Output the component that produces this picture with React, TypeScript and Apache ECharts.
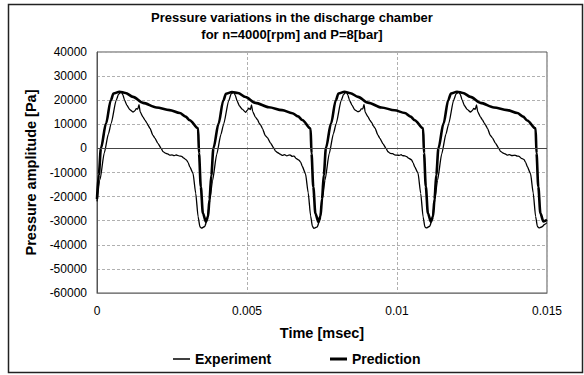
import React, { useEffect, useRef } from "react";
import * as echarts from "echarts";

const titleLines = ["Pressure variations in the discharge chamber", "for n=4000[rpm] and P=8[bar]"];
const xAxisName = "Time [msec]";
const yAxisName = "Pressure amplitude [Pa]";
const seriesNames = ["Experiment", "Prediction"];
const xTicks = [0, 0.005, 0.01, 0.015];
const yTicks = [-60000, -50000, -40000, -30000, -20000, -10000, 0, 10000, 20000, 30000, 40000];

// Experiment (thin line)
const expTime = [
  0, 0.0001, 0.00024, 0.00038, 0.00047, 0.00064, 0.00072, 0.00081, 0.00086, 0.00092, 0.001, 0.00109, 0.0012, 0.00126, 0.00131, 0.00136, 0.0014, 0.00144, 0.00153, 0.0016, 0.00166, 0.0017, 0.00177, 0.00186, 0.00193, 0.00203, 0.00214, 0.0022, 0.00228, 0.00236, 0.00242, 0.0025, 0.00258, 0.00264, 0.00268, 0.00276, 0.00282, 0.00288, 0.00298, 0.00304, 0.00309, 0.0032, 0.00329, 0.00337, 0.00343, 0.00348, 0.00359, 0.00367,
  0.00375, 0.00385, 0.00399, 0.00413, 0.00422, 0.00439, 0.00447, 0.00456, 0.00461, 0.00467, 0.00475, 0.00484, 0.00495, 0.00501, 0.00506, 0.00511, 0.00515, 0.00519, 0.00528, 0.00535, 0.00541, 0.00545, 0.00552, 0.00561, 0.00568, 0.00578, 0.00589, 0.00595, 0.00603, 0.00611, 0.00617, 0.00625, 0.00633, 0.00639, 0.00643, 0.00651, 0.00657, 0.00663, 0.00673, 0.00679, 0.00684, 0.00695, 0.00704, 0.00712, 0.00718, 0.00723, 0.00734, 0.00742,
  0.0075, 0.0076, 0.00774, 0.00788, 0.00797, 0.00814, 0.00822, 0.00831, 0.00836, 0.00842, 0.0085, 0.00859, 0.0087, 0.00876, 0.00881, 0.00886, 0.0089, 0.00894, 0.00903, 0.0091, 0.00916, 0.0092, 0.00927, 0.00936, 0.00943, 0.00953, 0.00964, 0.0097, 0.00978, 0.00986, 0.00992, 0.01, 0.01008, 0.01014, 0.01018, 0.01026, 0.01032, 0.01038, 0.01048, 0.01054, 0.01059, 0.0107, 0.01079, 0.01087, 0.01093, 0.01098, 0.01109, 0.01117,
  0.01125, 0.01135, 0.01149, 0.01163, 0.01172, 0.01189, 0.01197, 0.01206, 0.01211, 0.01217, 0.01225, 0.01234, 0.01245, 0.01251, 0.01256, 0.01261, 0.01265, 0.01269, 0.01278, 0.01285, 0.01291, 0.01295, 0.01302, 0.01311, 0.01318, 0.01328, 0.01339, 0.01345, 0.01353, 0.01361, 0.01367, 0.01375, 0.01383, 0.01389, 0.01393, 0.01401, 0.01407, 0.01413, 0.01423, 0.01429, 0.01434, 0.01445, 0.01454, 0.01462, 0.01468, 0.01473, 0.01484, 0.01492, 0.015,
];
const expValue = [
  -22000, -13000, -2000, 6000, 10300, 20000, 22500, 23500, 22300, 20000, 17800, 16100, 15100, 15600, 16500, 16300, 18200, 15100, 13100, 11700, 10600, 9600, 8300, 5500, 4300, 2100, 0, -1300, -2000, -2300, -2800, -2700, -3000, -2700, -2900, -3200, -3300, -3900, -4800, -5900, -7600, -10300, -18600, -28300, -32500, -33100, -32400, -29700,
  -22500, -13500, -2500, 5800, 10000, 19800, 22600, 23400, 22000, 19700, 17600, 16300, 15000, 15800, 16700, 16100, 18000, 15300, 13000, 11900, 10400, 9800, 8100, 5300, 4500, 2300, 200, -1100, -1800, -2400, -2900, -2600, -3100, -2800, -2700, -3300, -3200, -4100, -4900, -5700, -7400, -10500, -18400, -28000, -32300, -33200, -32600, -29900,
  -22300, -13200, -2200, 6100, 10200, 19900, 22400, 23500, 22200, 19900, 17900, 16000, 15200, 15500, 16400, 16400, 18300, 15000, 13200, 11600, 10700, 9500, 8400, 5600, 4200, 2000, -100, -1400, -2100, -2200, -2700, -2800, -2900, -2600, -3000, -3100, -3400, -4000, -4700, -6000, -7700, -10200, -18700, -28400, -32600, -33000, -32300, -29600,
  -22400, -13300, -2300, 5900, 10100, 20100, 22600, 23400, 22400, 20100, 17700, 16200, 15100, 15700, 16600, 16200, 18100, 15200, 13100, 11800, 10500, 9700, 8200, 5400, 4400, 2200, 100, -1200, -1900, -2300, -2800, -2600, -3000, -2900, -2800, -3200, -3300, -4000, -4600, -5800, -7500, -10400, -18500, -28200, -32400, -33000, -32500, -31500, -30800,
];

// Prediction (thick line)
const predTime = [
  0, 0.00006, 0.00013, 0.0003, 0.00046, 0.00055, 0.00075, 0.00095, 0.0012, 0.00153, 0.00198, 0.00242, 0.00276, 0.00295, 0.00309, 0.00337, 0.0034, 0.00346, 0.00353, 0.00363, 0.0037,
  0.00375, 0.00381, 0.00388, 0.00405, 0.00421, 0.0043, 0.0045, 0.0047, 0.00495, 0.00528, 0.00573, 0.00617, 0.00651, 0.0067, 0.00684, 0.00712, 0.00715, 0.00721, 0.00728, 0.00738, 0.00745,
  0.0075, 0.00756, 0.00763, 0.0078, 0.00796, 0.00805, 0.00825, 0.00845, 0.0087, 0.00903, 0.00948, 0.00992, 0.01026, 0.01045, 0.01059, 0.01087, 0.0109, 0.01096, 0.01103, 0.01113, 0.0112,
  0.01125, 0.01131, 0.01138, 0.01155, 0.01171, 0.0118, 0.012, 0.0122, 0.01245, 0.01278, 0.01323, 0.01367, 0.01401, 0.0142, 0.01434, 0.01462, 0.01465, 0.01471, 0.01478, 0.01488, 0.015,
];
const predValue = [
  -21000, -11000, 0, 10300, 20000, 22800, 23500, 23000, 21400, 18900, 17000, 15900, 14700, 13200, 11700, 8300, -2000, -15900, -26900, -30400, -28300,
  -21200, -11200, 0, 10200, 19900, 22700, 23400, 23000, 21300, 18900, 17100, 15900, 14600, 13300, 11800, 8200, -2100, -16000, -27000, -30500, -28200,
  -21000, -11100, 100, 10300, 20000, 22800, 23500, 22900, 21400, 19000, 17000, 15800, 14700, 13200, 11700, 8300, -1900, -15800, -26900, -30400, -28300,
  -21100, -11000, 0, 10300, 20100, 22800, 23500, 23000, 21400, 18900, 17000, 15900, 14700, 13200, 11600, 8300, -2000, -15900, -26900, -30300, -29700,
];

const FONT = "'Liberation Sans', Arial, Helvetica, sans-serif";

export default function App() {
  const ref = useRef<HTMLDivElement>(null);
  useEffect(() => {
    if (!ref.current) return;
    const chart = echarts.init(ref.current, undefined, { renderer: "svg" });
    const expData = expTime.map((t, i) => [t, expValue[i]]);
    const predData = predTime.map((t, i) => [t, predValue[i]]);
    const legendText = { fontFamily: FONT, fontSize: 14, fontWeight: "bold", color: "#000" };
    chart.setOption({
      animation: false,
      backgroundColor: "#ffffff",
      textStyle: { fontFamily: FONT },
      title: {
        text: titleLines.join("\n"),
        left: "center",
        top: 9,
        padding: 0,
        textStyle: { fontFamily: FONT, fontSize: 13, fontWeight: "bold", color: "#000", lineHeight: 17 },
      },
      graphic: [
        {
          type: "rect",
          shape: { x: 8.5, y: 4.5, width: 574, height: 368 },
          style: { fill: "none", stroke: "#222", lineWidth: 1.5 },
          silent: true,
        },
      ],
      grid: {
        left: 97,
        right: 37,
        top: 52,
        bottom: 82,
        show: true,
        borderColor: "#555",
        borderWidth: 1,
        backgroundColor: "transparent",
      },
      legend: [
        {
          data: [seriesNames[0]],
          left: 173,
          top: 352,
          padding: 0,
          icon: "rect",
          itemWidth: 17,
          itemHeight: 1.5,
          itemStyle: { color: "#000" },
          textStyle: legendText,
        },
        {
          data: [seriesNames[1]],
          left: 330,
          top: 352,
          padding: 0,
          icon: "rect",
          itemWidth: 17,
          itemHeight: 3,
          itemStyle: { color: "#000" },
          textStyle: legendText,
        },
      ],
      xAxis: {
        type: "value",
        min: xTicks[0],
        max: xTicks[xTicks.length - 1],
        interval: 0.005,
        name: xAxisName,
        nameLocation: "middle",
        nameGap: 32,
        nameTextStyle: { fontFamily: FONT, fontSize: 14.5, fontWeight: "bold", color: "#000" },
        axisLine: { show: true, onZero: false, lineStyle: { color: "#808080", width: 1 } },
        axisTick: { show: false },
        axisLabel: {
          fontFamily: FONT,
          fontSize: 12,
          color: "#000",
          margin: 12,
          formatter: (v: number) => String(Math.round(v * 1000) / 1000),
        },
        splitLine: { show: true, lineStyle: { color: "#b0b0b0", type: [3, 2], width: 1 } },
      },
      yAxis: {
        type: "value",
        min: yTicks[0],
        max: yTicks[yTicks.length - 1],
        interval: 10000,
        name: yAxisName,
        nameLocation: "middle",
        nameGap: 59,
        nameRotate: 90,
        nameTextStyle: { fontFamily: FONT, fontSize: 14.5, fontWeight: "bold", color: "#000" },
        axisLine: { show: true, lineStyle: { color: "#555", width: 1 } },
        axisTick: { show: false },
        axisLabel: {
          fontFamily: FONT,
          fontSize: 12,
          color: "#000",
          margin: 10,
          formatter: (v: number) => String(v),
        },
        splitLine: { show: true, lineStyle: { color: "#b0b0b0", type: [3, 2], width: 1 } },
      },
      series: [
        {
          name: seriesNames[0],
          type: "line",
          data: expData,
          symbol: "none",
          smooth: 0.2,
          smoothMonotone: "x",
          lineStyle: { color: "#000", width: 1.3 },
          itemStyle: { color: "#000" },
          z: 3,
          markLine: {
            silent: true,
            symbol: "none",
            label: { show: false },
            lineStyle: { color: "#444", type: "solid", width: 1 },
            data: [{ yAxis: 0 }],
          },
        },
        {
          name: seriesNames[1],
          type: "line",
          data: predData,
          symbol: "none",
          smooth: 0.3,
          smoothMonotone: "x",
          lineStyle: { color: "#000", width: 2.6 },
          itemStyle: { color: "#000" },
          z: 4,
        },
      ],
    });
    return () => chart.dispose();
  }, []);
  return (
    <div
      ref={ref}
      style={{ position: "absolute", left: 0, top: 0, width: 584, height: 375 }}
    />
  );
}
